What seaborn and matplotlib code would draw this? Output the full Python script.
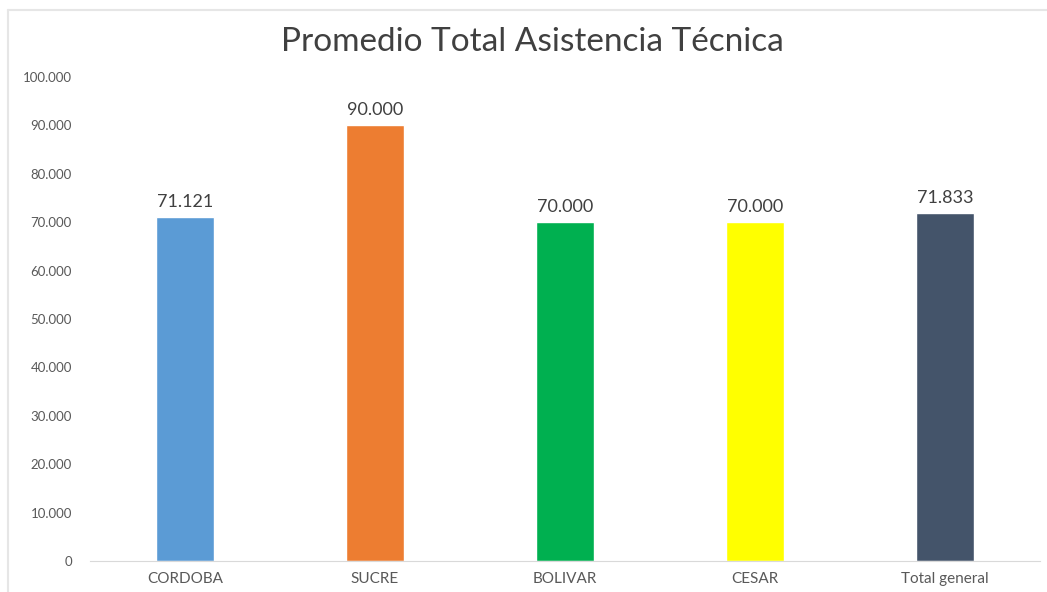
import pandas as pd
import matplotlib.pyplot as plt
import matplotlib.ticker as mticker
import seaborn as sns

# Datos
departamentos = ['CORDOBA', 'SUCRE', 'BOLIVAR', 'CESAR', 'Total general']
promedios = [71121, 90000, 70000, 70000, 71833]
colores = ['#5B9BD5', '#ED7D31', '#00B050', '#FFFF00', '#44546A']


def miles(v):
    # formato con punto como separador de miles
    return f'{int(round(v)):,}'.replace(',', '.')


df = pd.DataFrame({'Departamento': departamentos, 'Promedio': promedios})

sns.set_style('white')
plt.rcParams['font.family'] = ['Lato', 'DejaVu Sans']

fig = plt.figure(figsize=(10.47, 5.92), dpi=100)
ax = fig.add_axes([0.086, 0.0524, 0.9073, 0.8176])

sns.barplot(data=df, x='Departamento', y='Promedio', hue='Departamento',
            palette=colores, width=0.305, legend=False, ax=ax, saturation=1)

for p, v in zip(ax.patches, promedios):
    ax.annotate(miles(v), (p.get_x() + p.get_width() / 2, v),
                xytext=(0, 5), textcoords='offset points',
                ha='center', va='bottom', fontsize=13, color='#404040')

ax.set_ylim(0, 100000)
ax.set_xlim(-0.5, 4.5)
ax.yaxis.set_major_locator(mticker.MultipleLocator(10000))
ax.yaxis.set_major_formatter(mticker.FuncFormatter(lambda v, _: miles(v)))
ax.set_xlabel('')
ax.set_ylabel('')
ax.tick_params(axis='y', labelsize=9.5, colors='#595959', length=0, pad=13)
ax.tick_params(axis='x', labelsize=11, colors='#595959', length=0, pad=8)

for s in ['top', 'right', 'left']:
    ax.spines[s].set_visible(False)
ax.spines['bottom'].set_color('#D9D9D9')

fig.suptitle('Promedio Total Asistencia Técnica', fontsize=24, color='#404040', x=0.508, y=0.955)

# marco gris claro del area de grafico
fig.add_artist(plt.Line2D([0.0076, 1.0], [0.983, 0.983], color='#E6E6E6', lw=1.5, transform=fig.transFigure))
fig.add_artist(plt.Line2D([0.0076, 0.0076], [0.0, 0.983], color='#E6E6E6', lw=1.5, transform=fig.transFigure))

fig.savefig('out.png', dpi=100)
